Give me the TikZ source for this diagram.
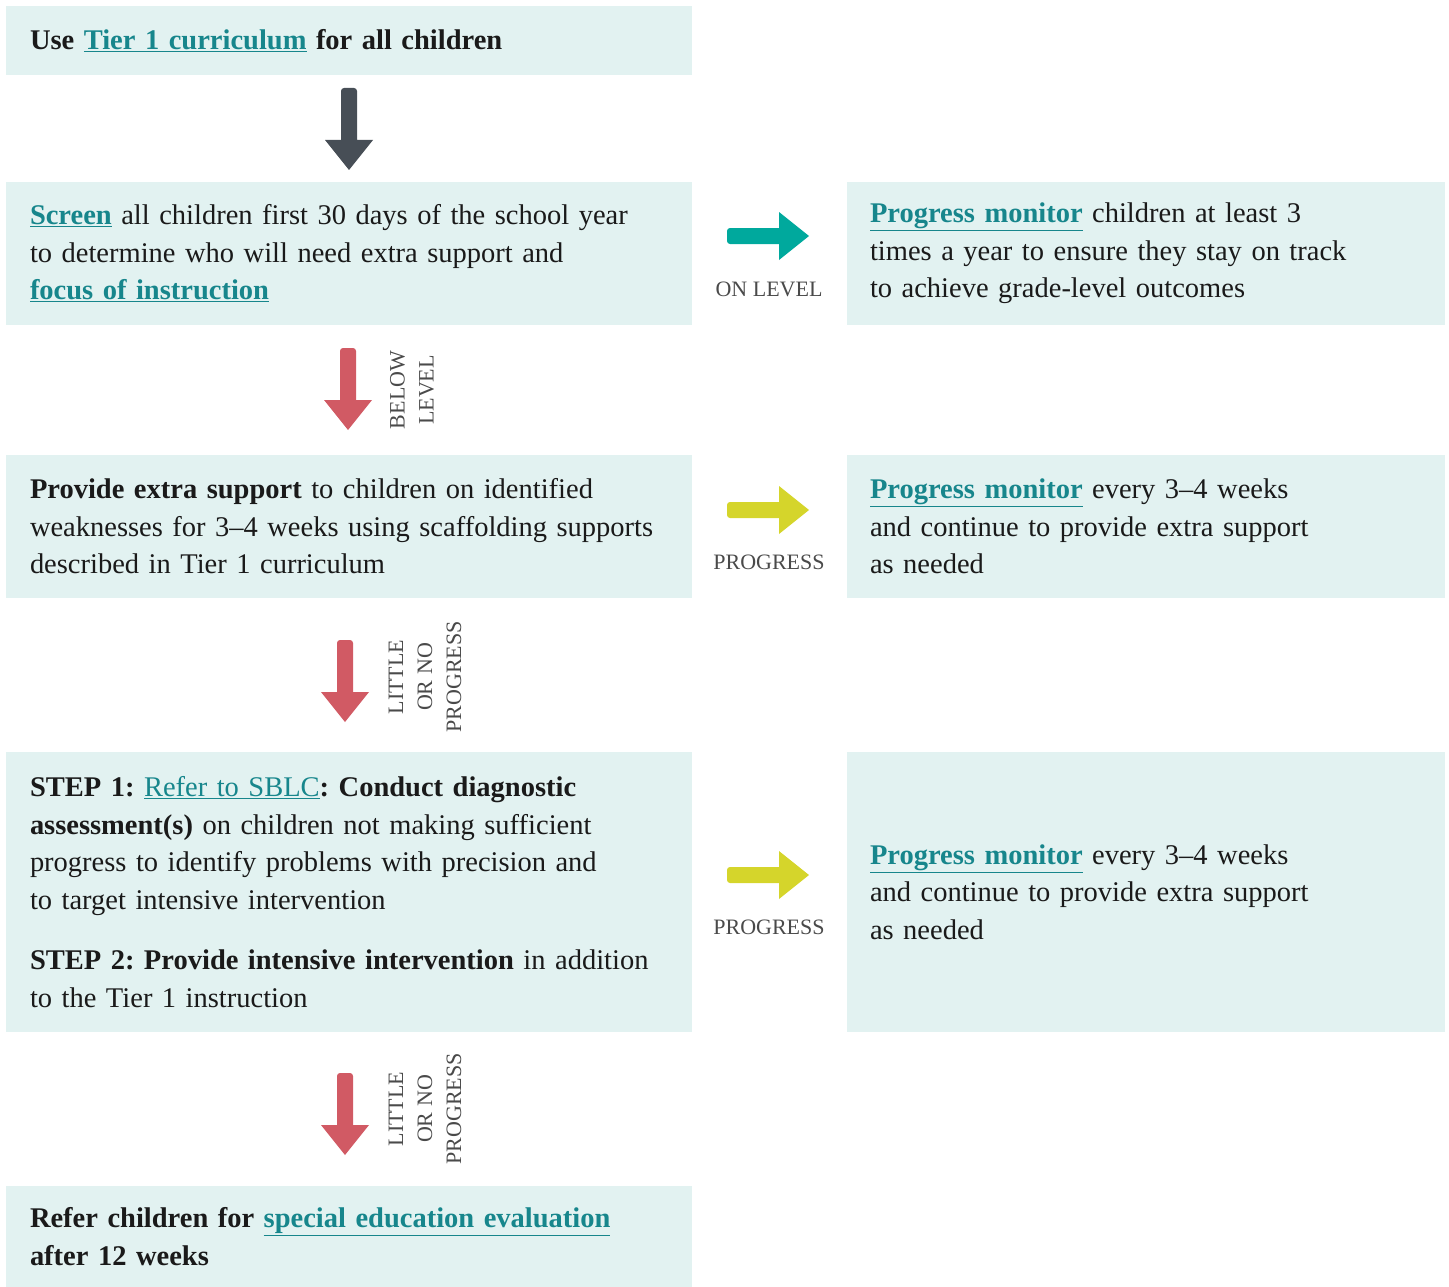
\documentclass[tikz,border=0pt]{standalone}
\usepackage{fontspec}
\setmainfont{Liberation Serif}
\usetikzlibrary{positioning}
\definecolor{boxfill}{HTML}{E2F2F1}
\definecolor{linkteal}{HTML}{17868C}
\definecolor{arrowteal}{HTML}{00A99D}
\definecolor{arrowyellow}{HTML}{D5D52B}
\definecolor{arrowred}{HTML}{D15A64}
\definecolor{arrowdark}{HTML}{474E56}
\definecolor{labelgray}{HTML}{4A4A4A}
\definecolor{bodytext}{HTML}{1A1A1A}
\newcommand{\lnk}[1]{\textcolor{linkteal}{\underline{#1}}}
\newcommand{\boxfont}{\fontsize{28.5}{37.5}\selectfont\frenchspacing\hyphenpenalty=10000\relax}
\tikzset{
  leftbox/.style={anchor=north west, fill=boxfill, text=bodytext, text width=638pt,
    inner xsep=24pt, inner ysep=0pt, outer sep=0pt, minimum width=686pt, align=left,
    font=\boxfont},
  rightbox/.style={leftbox, text width=552pt, inner xsep=23pt, minimum width=598pt},
  steplabel/.style={text=labelgray, font=\fontsize{22}{29}\selectfont, align=center, inner sep=0pt},
  blockarrow/.pic={
    \fill (0,82) -- (-24,52) -- (-8,52) [rounded corners=3pt] -- (-8,0) -- (8,0)
      [sharp corners] -- (8,52) -- (24,52) -- cycle;
  }
}
\begin{document}
\begin{tikzpicture}[x=1pt,y=-1pt]
  \useasboundingbox (0,0) rectangle (1449,1287);

  % left column
  \node[leftbox, minimum height=69pt]  (use)     at (6,6)    {\textbf{Use \lnk{Tier 1 curriculum} for all children}};
  \node[leftbox, minimum height=143pt] (screen)  at (6,182)  {\textbf{\lnk{Screen}} all children first 30 days of the school year\\
    to determine who will need extra support and\\ \textbf{\lnk{focus of instruction}}};
  \node[leftbox, minimum height=143pt] (support) at (6,455)  {\textbf{Provide extra support} to children on identified\\
    weaknesses for 3--4 weeks using scaffolding supports\\ described in Tier 1 curriculum};
  \node[leftbox, minimum height=280pt] (diag)    at (6,752)  {\textbf{STEP 1: }\lnk{Refer to SBLC}\textbf{: Conduct diagnostic}\\
    \textbf{assessment(s)} on children not making sufficient\\ progress to identify problems with precision and\\
    to target intensive intervention\\[23pt]
    \textbf{STEP 2: Provide intensive intervention} in addition\\ to the Tier 1 instruction};
  \node[leftbox, minimum height=101pt] (refer)   at (6,1186) {\textbf{Refer children for \lnk{special education evaluation}}\\
    \textbf{after 12 weeks}};

  % right column
  \node[rightbox, minimum height=143pt, right=155pt of screen.north east, anchor=north west]  (monitor1)
    {\textbf{\lnk{Progress monitor}} children at least 3\\ times a year to ensure they stay on track\\ to achieve grade-level outcomes};
  \node[rightbox, minimum height=143pt, right=155pt of support.north east, anchor=north west] (monitor2)
    {\textbf{\lnk{Progress monitor}} every 3--4 weeks\\ and continue to provide extra support\\ as needed};
  \node[rightbox, minimum height=280pt, right=155pt of diag.north east, anchor=north west]    (monitor3)
    {\textbf{\lnk{Progress monitor}} every 3--4 weeks\\ and continue to provide extra support\\ as needed};

  % arrows
  \pic[fill=arrowdark] at (349,88) {blockarrow};
  \pic[fill=arrowred]  at (348,348) {blockarrow};
  \pic[fill=arrowred]  at (345,640) {blockarrow};
  \pic[fill=arrowred]  at (345,1073) {blockarrow};
  \pic[fill=arrowteal, rotate=90]   at (727,236) {blockarrow};
  \pic[fill=arrowyellow, rotate=90] at (727,510) {blockarrow};
  \pic[fill=arrowyellow, rotate=90] at (727,875) {blockarrow};

  % labels
  \node[steplabel] (onlevel)   at (769,289) {ON LEVEL};
  \node[steplabel, rotate=90] (below) at (412,390) {BELOW\\ LEVEL};
  \node[steplabel] (progress1) at (769,562) {PROGRESS};
  \node[steplabel, rotate=90] (little1) at (425,677) {LITTLE\\ OR NO\\ PROGRESS};
  \node[steplabel] (progress2) at (769,927) {PROGRESS};
  \node[steplabel, rotate=90] (little2) at (425,1109) {LITTLE\\ OR NO\\ PROGRESS};
\end{tikzpicture}
\end{document}
